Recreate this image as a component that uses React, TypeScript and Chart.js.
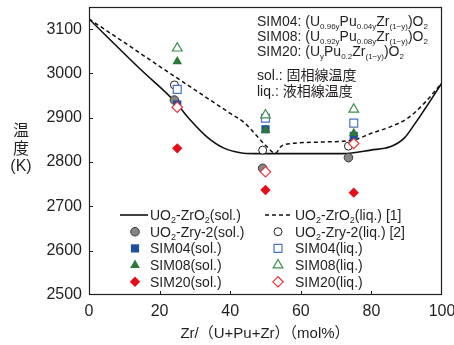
import React, { useEffect, useRef } from 'react';
import { Chart, registerables } from 'chart.js';

Chart.register(...registerables);

const FONT = '"Liberation Sans", Arial, "Noto Sans CJK JP", sans-serif';
const INK = '#231f20';

// ---- axis ticks ----
const xTicks = [0, 20, 40, 60, 80, 100];
const yTicks = [2500, 2600, 2700, 2800, 2900, 3000, 3100];

// ---- phase-diagram curves (UO2-ZrO2) ----
const solidusX = [0, 14.5, 24.4, 28.7, 33.4, 38.1, 42.9, 47, 60, 72, 79.8, 85.5, 89.3, 92.1, 95, 100];
const solidusT = [3123, 3010, 2936, 2895, 2857, 2832, 2821, 2819, 2819, 2819, 2827, 2835, 2854, 2884, 2918, 2979];
const liquidusX = [0, 10, 20, 30, 40, 44, 47, 50, 52.8, 54.5, 57.5, 65, 75, 80, 85.5, 90.3, 95, 100];
const liquidusT = [3123, 3070, 3016, 2963, 2910, 2889, 2864, 2838, 2820, 2836, 2842, 2845, 2850, 2865, 2880, 2899, 2933, 2979];

// ---- measured points ----
const zryX = [24.2, 49.2, 73.5];
const zrySolT = [2940, 2786, 2810];
const zryLiqT = [2974, 2827, 2836];
const simX = [25, 50, 75];
const sim04SolT = [2930, 2874, 2859];
const sim04LiqT = [2964, 2899, 2888];
const sim08SolT = [3027, 2872, 2865];
const sim08LiqT = [3057, 2906, 2919];
const sim20SolT = [2831, 2737, 2731];
const sim20LiqT = [2924, 2778, 2842];

// ---- texts ----
const xTitle = 'Zr/（U+Pu+Zr）（mol%）';
const yTitle = ['温', '度', '(K)'];
const legendSol = ['UO_2-ZrO_2(sol.)', 'UO_2-Zry-2(sol.)', 'SIM04(sol.)', 'SIM08(sol.)', 'SIM20(sol.)'];
const legendLiq = ['UO_2-ZrO_2(liq.) [1]', 'UO_2-Zry-2(liq.) [2]', 'SIM04(liq.)', 'SIM08(liq.)', 'SIM20(liq.)'];
const noteLines = [
  'SIM04: (U_{0.96y}Pu_{0.04y}Zr_{(1−y)})O_2',
  'SIM08: (U_{0.92y}Pu_{0.08y}Zr_{(1−y)})O_2',
  'SIM20: (U_{y}Pu_{0.2}Zr_{(1−y)})O_2',
  'sol.: 固相線温度',
  'liq.: 液相線温度',
];

const BLUE = '#1f4f9f';
const BLUE_O = '#4a74c2';
const GREEN = '#2b7a3b';
const GREEN_O = '#3f8f4c';
const RED = '#e50f1a';
const RED_O = '#e8343b';
const GRAY = '#858585';

type Mk = { style: string; r: number; fill: string; stroke: string; bw: number };
const mkZrySol: Mk = { style: 'circle', r: 4.3, fill: GRAY, stroke: '#3a3a3a', bw: 1 };
const mkZryLiq: Mk = { style: 'circle', r: 4, fill: '#ffffff', stroke: '#222', bw: 1 };
const mk04Sol: Mk = { style: 'rect', r: 5.8, fill: BLUE, stroke: BLUE, bw: 0 };
const mk04Liq: Mk = { style: 'rect', r: 5.6, fill: '#ffffff', stroke: BLUE_O, bw: 1.2 };
const mk08Sol: Mk = { style: 'triangle', r: 5.6, fill: GREEN, stroke: GREEN, bw: 0 };
const mk08Liq: Mk = { style: 'triangle', r: 5.6, fill: '#ffffff', stroke: GREEN_O, bw: 1.2 };
const mk20Sol: Mk = { style: 'rectRot', r: 5.2, fill: RED, stroke: RED, bw: 0 };
const mk20Liq: Mk = { style: 'rectRot', r: 5.2, fill: '#ffffff', stroke: RED_O, bw: 1.2 };

function parseRich(s: string) {
  const out: { t: string; sub: boolean }[] = [];
  let i = 0;
  let buf = '';
  while (i < s.length) {
    if (s[i] === '_') {
      if (buf) { out.push({ t: buf, sub: false }); buf = ''; }
      if (s[i + 1] === '{') {
        const j = s.indexOf('}', i + 2);
        out.push({ t: s.slice(i + 2, j), sub: true });
        i = j + 1;
      } else {
        out.push({ t: s[i + 1], sub: true });
        i += 2;
      }
    } else {
      buf += s[i];
      i++;
    }
  }
  if (buf) out.push({ t: buf, sub: false });
  return out;
}

function drawRich(ctx: CanvasRenderingContext2D, text: string, x: number, yMid: number, size: number, subRatio = 0.64) {
  const segs = parseRich(text);
  const sub = Math.round(size * subRatio);
  const base = yMid + size * 0.36;
  let cx = x;
  ctx.textAlign = 'left';
  ctx.textBaseline = 'alphabetic';
  for (const s of segs) {
    ctx.font = `${s.sub ? sub : size}px ${FONT}`;
    ctx.fillText(s.t, cx, s.sub ? base + size * 0.2 : base);
    cx += ctx.measureText(s.t).width;
  }
}

function drawMarker(ctx: CanvasRenderingContext2D, m: Mk, x: number, y: number) {
  ctx.beginPath();
  const r = m.r;
  if (m.style === 'circle') {
    ctx.arc(x, y, r, 0, Math.PI * 2);
  } else if (m.style === 'rect') {
    const s = Math.SQRT1_2 * r;
    ctx.rect(x - s, y - s, 2 * s, 2 * s);
  } else if (m.style === 'triangle') {
    for (let k = 0; k < 3; k++) {
      const a = (k * 2 * Math.PI) / 3;
      const px = x + Math.sin(a) * r;
      const py = y - Math.cos(a) * r;
      if (k === 0) ctx.moveTo(px, py); else ctx.lineTo(px, py);
    }
    ctx.closePath();
  } else {
    ctx.moveTo(x - r, y);
    ctx.lineTo(x, y - r);
    ctx.lineTo(x + r, y);
    ctx.lineTo(x, y + r);
    ctx.closePath();
  }
  ctx.fillStyle = m.fill;
  ctx.fill();
  if (m.bw > 0) {
    ctx.lineWidth = m.bw;
    ctx.strokeStyle = m.stroke;
    ctx.stroke();
  }
}

const pts = (xs: number[], ys: number[]) => xs.map((x, i) => ({ x, y: ys[i] }));

function pointSet(label: string, xs: number[], ys: number[], m: Mk, order: number) {
  return {
    type: 'line' as const,
    label,
    data: pts(xs, ys),
    showLine: false,
    pointStyle: m.style,
    pointRadius: m.r,
    pointBackgroundColor: m.fill,
    pointBorderColor: m.stroke,
    pointBorderWidth: m.bw,
    borderColor: m.stroke,
    backgroundColor: m.fill,
    order,
  };
}

const decor = {
  id: 'decor',
  afterDraw(chart: any) {
    const { ctx, chartArea: a, scales } = chart;
    const xs = scales.x;
    const ys = scales.y;
    ctx.save();
    // frame
    ctx.strokeStyle = INK;
    ctx.lineWidth = 1.2;
    ctx.strokeRect(Math.round(a.left) + 0.5, Math.round(a.top) + 0.5, Math.round(a.right - a.left) - 1, Math.round(a.bottom - a.top) - 1);
    // inner tick marks
    ctx.lineWidth = 1;
    ctx.beginPath();
    for (const v of yTicks) {
      if (v === yTicks[0]) continue;
      const py = Math.round(ys.getPixelForValue(v)) + 0.5;
      ctx.moveTo(a.left, py);
      ctx.lineTo(a.left + 4, py);
    }
    for (const v of xTicks) {
      if (v === xTicks[0] || v === xTicks[xTicks.length - 1]) continue;
      const px = Math.round(xs.getPixelForValue(v)) + 0.5;
      ctx.moveTo(px, a.bottom);
      ctx.lineTo(px, a.bottom - 4);
    }
    ctx.stroke();

    ctx.fillStyle = INK;
    // x title
    ctx.font = `15px ${FONT}`;
    ctx.textAlign = 'center';
    ctx.textBaseline = 'middle';
    ctx.fillText(xTitle, 265, 334);
    // y title
    ctx.font = `16px ${FONT}`;
    yTitle.forEach((t, i) => ctx.fillText(t, 21, 132 + i * 17.5));

    // notes (top right)
    noteLines.forEach((t, i) => {
      const y = i < 3 ? 21 + i * 15 : 75 + (i - 3) * 16;
      ctx.fillStyle = INK;
      drawRich(ctx, t, 257, y, 14, 0.6);
    });

    // legend
    const solMk = [null, mkZrySol, mk04Sol, mk08Sol, mk20Sol];
    const liqMk = [null, mkZryLiq, mk04Liq, mk08Liq, mk20Liq];
    for (let i = 0; i < 5; i++) {
      const y = 215 + i * 16.7;
      if (i === 0) {
        ctx.strokeStyle = '#111';
        ctx.lineWidth = 1.6;
        ctx.setLineDash([]);
        ctx.beginPath();
        ctx.moveTo(120, y);
        ctx.lineTo(148, y);
        ctx.stroke();
        ctx.setLineDash([4, 3]);
        ctx.beginPath();
        ctx.moveTo(265, y);
        ctx.lineTo(292, y);
        ctx.stroke();
        ctx.setLineDash([]);
      } else {
        drawMarker(ctx, solMk[i] as Mk, 135, y);
        drawMarker(ctx, liqMk[i] as Mk, 278, y);
      }
      ctx.fillStyle = INK;
      drawRich(ctx, legendSol[i], 150, y, 14);
      ctx.fillStyle = INK;
      drawRich(ctx, legendLiq[i], 295, y, 14);
    }
    ctx.restore();
  },
};

export default function App() {
  const ref = useRef<HTMLCanvasElement>(null);
  useEffect(() => {
    if (!ref.current) return;
    const chart = new Chart(ref.current, {
      type: 'line',
      data: {
        datasets: [
          {
            type: 'line',
            label: 'UO2-ZrO2(sol.)',
            data: pts(solidusX, solidusT),
            borderColor: '#111',
            borderWidth: 1.6,
            pointRadius: 0,
            cubicInterpolationMode: 'monotone',
            fill: false,
            order: 10,
          },
          {
            type: 'line',
            label: 'UO2-ZrO2(liq.)',
            data: pts(liquidusX, liquidusT),
            borderColor: '#111',
            borderWidth: 1.5,
            borderDash: [4, 3],
            pointRadius: 0,
            cubicInterpolationMode: 'monotone',
            fill: false,
            order: 9,
          },
          pointSet('UO2-Zry-2(sol.)', zryX, zrySolT, mkZrySol, 8),
          pointSet('UO2-Zry-2(liq.)', zryX, zryLiqT, mkZryLiq, 7),
          pointSet('SIM04(sol.)', simX, sim04SolT, mk04Sol, 6),
          pointSet('SIM04(liq.)', simX, sim04LiqT, mk04Liq, 5),
          pointSet('SIM08(sol.)', simX, sim08SolT, mk08Sol, 4),
          pointSet('SIM08(liq.)', simX, sim08LiqT, mk08Liq, 3),
          pointSet('SIM20(sol.)', simX, sim20SolT, mk20Sol, 2),
          pointSet('SIM20(liq.)', simX, sim20LiqT, mk20Liq, 1),
        ] as any,
      },
      options: {
        responsive: false,
        animation: false,
        devicePixelRatio: 1,
        layout: { padding: { top: 7, right: 12, left: 0, bottom: 0 } },
        plugins: { legend: { display: false }, tooltip: { enabled: false } },
        scales: {
          x: {
            type: 'linear',
            min: 0,
            max: 100,
            grid: { display: false, drawTicks: false },
            border: { display: false },
            ticks: { font: { family: FONT, size: 16 }, color: INK, padding: 7, maxRotation: 0, callback: (v: any) => String(v) },
            afterBuildTicks: (s: any) => { s.ticks = xTicks.map((v) => ({ value: v })); },
            afterFit: (s: any) => { s.height = 50; s.paddingLeft = 0; s.paddingRight = 0; },
          },
          y: {
            type: 'linear',
            min: 2500,
            max: 3150,
            grid: { display: false, drawTicks: false },
            border: { display: false },
            ticks: { font: { family: FONT, size: 16 }, color: INK, padding: 7, callback: (v: any) => String(v) },
            afterBuildTicks: (s: any) => { s.ticks = yTicks.map((v) => ({ value: v })); },
            afterFit: (s: any) => { s.width = 89; s.paddingTop = 0; s.paddingBottom = 0; },
          },
        },
      } as any,
      plugins: [decor],
    });
    return () => chart.destroy();
  }, []);
  return (
    <div style={{ position: 'absolute', left: 0, top: 0, width: 454, height: 345, background: '#fff' }}>
      <canvas ref={ref} width={454} height={345} style={{ display: 'block', width: 454, height: 345 }} />
    </div>
  );
}
